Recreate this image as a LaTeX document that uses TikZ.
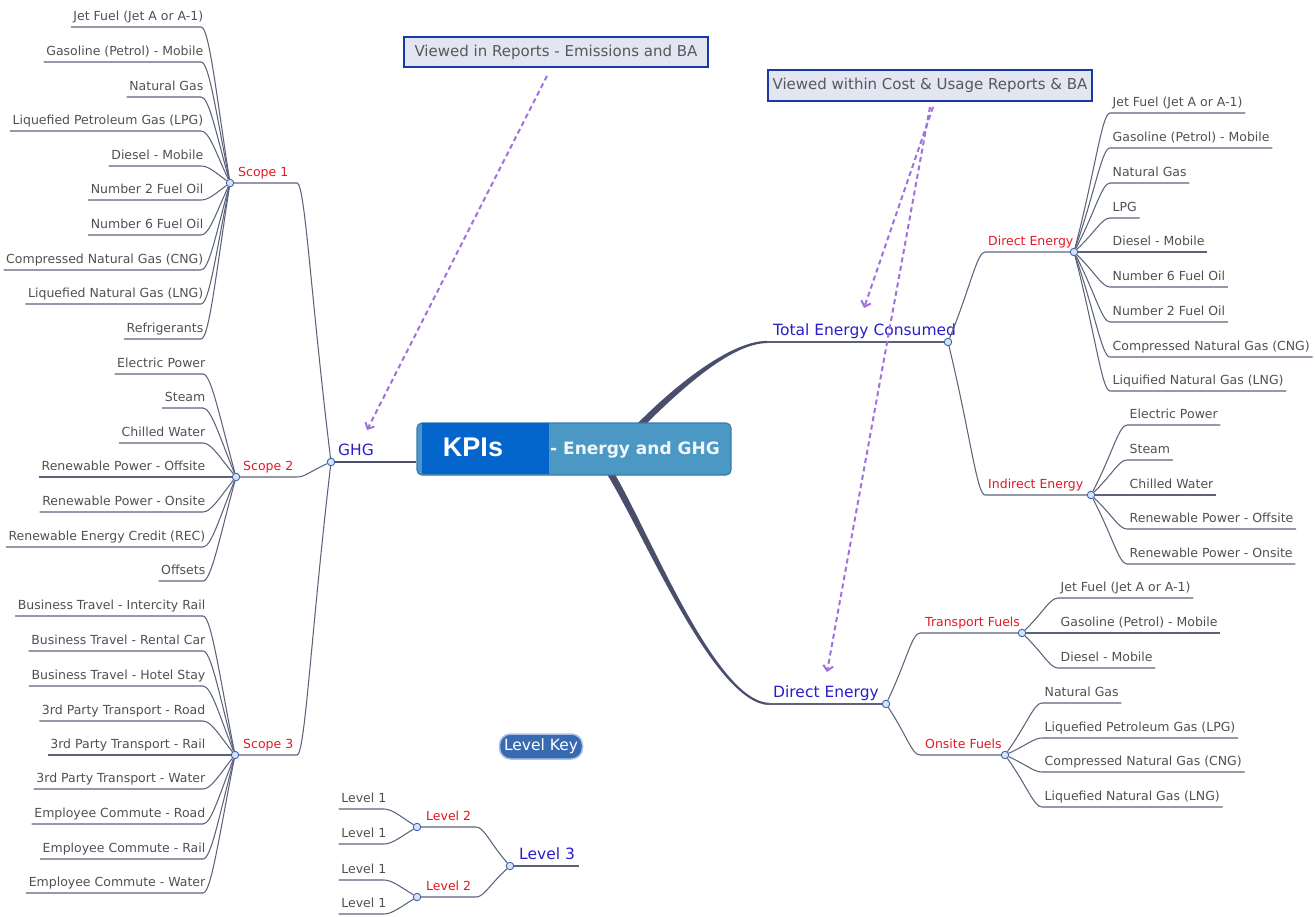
\documentclass[tikz,border=0pt]{standalone}
\usepackage{fontspec}
\setmainfont{DejaVu Sans}
\newfontfamily\kpifont{Liberation Sans}
\usetikzlibrary{arrows.meta,calc}
\definecolor{linkgray}{RGB}{92,98,122}
\definecolor{trunkgray}{RGB}{72,78,108}
\definecolor{leafgray}{RGB}{80,80,80}
\definecolor{lblred}{RGB}{226,24,36}
\definecolor{lblblue}{RGB}{42,30,200}
\definecolor{knotedge}{RGB}{58,98,178}
\definecolor{knotfill}{RGB}{214,228,248}
\definecolor{callblue}{RGB}{28,56,168}
\definecolor{callfill}{RGB}{226,230,243}
\definecolor{callgray}{RGB}{88,88,88}
\definecolor{hintpurple}{RGB}{160,112,226}
\definecolor{kpilight}{RGB}{76,152,196}
\definecolor{kpidark}{RGB}{4,102,204}
\definecolor{kpiedge}{RGB}{58,122,170}
\definecolor{kpitext}{RGB}{240,246,250}
\definecolor{keyblue}{RGB}{56,106,178}
\definecolor{keyedge}{RGB}{170,196,232}
% leaf left of its knot: name, x, y, knot, text
\newcommand{\leafl}[5]{%
  \node[leafL] (#1) at (#2,#3) {#5};
  \draw[lnk] (#1.south west) -- ($(#1.south east)+(-5,0)$)
    .. controls ($(#1.south east)+(3,0)$) and ($(#4)!0.6!(#1.south east)$) .. (#4);}
% leaf right of its knot: name, x, y, knot, text
\newcommand{\leafr}[5]{%
  \node[leafR] (#1) at (#2,#3) {#5};
  \draw[lnk] (#4) .. controls ($(#4)!0.6!(#1.south west)$) and ($(#1.south west)+(-8,0)$) .. (#1.south west)
    -- (#1.south east);}

\begin{document}
\begin{tikzpicture}[x=1pt,y=-1pt,
  >={Straight Barb[length=5pt,width=10pt]},
  lnk/.style={draw=linkgray, line width=1.05pt},
  knot/.style={circle, draw=knotedge, fill=knotfill, line width=0.9pt, inner sep=0pt, minimum size=7.5pt},
  leafL/.style={anchor=south east, font=\fontsize{12.5}{15}\selectfont, text=leafgray, inner xsep=2.5pt, inner ysep=3.5pt, text height=9pt, text depth=2.5pt},
  leafR/.style={leafL, anchor=south west},
  redlbl/.style={anchor=south west, font=\fontsize{12.5}{15}\selectfont, text=lblred, inner xsep=3pt, inner ysep=3.5pt, text height=9pt, text depth=2.5pt},
  bluelbl/.style={anchor=south west, font=\fontsize{15.5}{18}\selectfont, text=lblblue, inner xsep=3pt, inner ysep=3.5pt, text height=11pt, text depth=3pt},
  callout/.style={draw=callblue, line width=1.8pt, fill=callfill, text=callgray, font=\fontsize{15}{18}\selectfont, inner sep=0pt},
  hint/.style={->, draw=hintpurple, line width=2pt, dash pattern=on 5pt off 3.5pt},
  kpibox/.style={rounded corners=5pt, draw=kpiedge, fill=kpilight, line width=1.2pt, minimum width=314pt, minimum height=52pt, inner sep=0pt},
  kpimain/.style={font=\kpifont\bfseries\fontsize{27}{30}\selectfont, text=white, inner sep=1pt},
  kpisub/.style={font=\bfseries\fontsize{17}{20}\selectfont, text=kpitext, anchor=west, inner sep=1pt},
  keybtn/.style={rounded corners=11pt, fill=keyblue, draw=keyedge, line width=1.5pt, text=white, font=\fontsize{15.5}{18}\selectfont, minimum width=83pt, minimum height=25pt, inner sep=0pt},
]
\useasboundingbox (0,0) rectangle (1315,916);
% ---------------- trunk ends ----------------
\coordinate (tecs) at (767,342);
\coordinate (des) at (767,704);
\fill[trunkgray] (634,427) .. controls (671,389) and (729,340.9) .. ($(tecs)+(0,-1.1)$)
  -- ($(tecs)+(0,1.1)$) .. controls (731,343.1) and (679,391) .. (643,427) -- cycle;
\fill[trunkgray] (605,471) .. controls (643,531) and (714,704.9) .. ($(des)+(3,1.1)$)
  -- ($(des)+(3,-1.1)$) .. controls (716,703.1) and (648,529) .. (613,471) -- cycle;
% ---------------- central topic ----------------
\node[kpibox] (kpi) at (574,449) {};
\fill[kpidark] ($(kpi.north west)+(6,1)$) rectangle ($(kpi.south west)+(133,-2)$);
\node[kpimain] (kpis) at (473,447) {KPIs};
\node[kpisub] (kpit) at (549,450) {- Energy and GHG};
% ---------------- knots ----------------
\node[knot] (ghg) at (331,462) {};
\node[knot] (s1) at (230,183) {};
\node[knot] (s2) at (236,477) {};
\node[knot] (s3) at (235,755) {};
\node[knot] (tec) at (948,342) {};
\node[knot] (de1) at (1074,252) {};
\node[knot] (ie) at (1091,495) {};
\node[knot] (de2) at (886,704) {};
\node[knot] (tf) at (1022,633) {};
\node[knot] (of) at (1005,755) {};
\coordinate (s1e) at (297,183);
\coordinate (s2e) at (297,477);
\coordinate (s3e) at (297,755);
\coordinate (de1s) at (985,252);
\coordinate (ies) at (985,495);
\coordinate (tfs) at (920,633);
\coordinate (ofs) at (920,755);
% ---------------- labels ----------------
\node[bluelbl] (ghgt) at (335,462) {GHG};
\node[redlbl] (s1t) at (235,183) {Scope 1};
\node[redlbl] (s2t) at (240,477) {Scope 2};
\node[redlbl] (s3t) at (240,755) {Scope 3};
\node[bluelbl] (tect) at (770,342) {Total Energy Consumed};
\node[redlbl] (de1t) at (985,252) {Direct Energy};
\node[redlbl] (iet) at (985,495) {Indirect Energy};
\node[bluelbl] (de2t) at (770,704) {Direct Energy};
\node[redlbl] (tft) at (922,633) {Transport Fuels};
\node[redlbl] (oft) at (922,755) {Onsite Fuels};
% ---------------- branches ----------------
\draw[trunkgray, line width=2.6pt] (ghg) -- (ghg -| kpi.west);
\draw[lnk] (s1) -- (s1e) .. controls ($(s1e)+(8,0)$) and ($(ghg)!0.6!(s1e)$) .. (ghg);
\draw[lnk] (s2) -- (s2e) .. controls ($(s2e)+(8,0)$) and ($(ghg)!0.6!(s2e)$) .. (ghg);
\draw[lnk] (s3) -- (s3e) .. controls ($(s3e)+(8,0)$) and ($(ghg)!0.6!(s3e)$) .. (ghg);
\draw[lnk] (tecs) -- (tec);
\draw[lnk] (des) -- (de2);
\draw[lnk] (tec) .. controls ($(tec)!0.6!(de1s)$) and ($(de1s)+(-8,0)$) .. (de1s) -- (de1);
\draw[lnk] (tec) .. controls ($(tec)!0.6!(ies)$) and ($(ies)+(-8,0)$) .. (ies) -- (ie);
\draw[lnk] (de2) .. controls ($(de2)!0.6!(tfs)$) and ($(tfs)+(-8,0)$) .. (tfs) -- (tf);
\draw[lnk] (de2) .. controls ($(de2)!0.6!(ofs)$) and ($(ofs)+(-8,0)$) .. (ofs) -- (of);
% ---------------- scope 1 ----------------
\leafl{sa1}{206}{27}{s1}{Jet Fuel (Jet A or A-1)}
\leafl{sa2}{206}{62}{s1}{Gasoline (Petrol) - Mobile}
\leafl{sa3}{206}{97}{s1}{Natural Gas}
\leafl{sa4}{206}{131}{s1}{Liquefied Petroleum Gas (LPG)}
\leafl{sa5}{206}{166}{s1}{Diesel - Mobile}
\leafl{sa6}{206}{200}{s1}{Number 2 Fuel Oil}
\leafl{sa7}{206}{235}{s1}{Number 6 Fuel Oil}
\leafl{sa8}{206}{270}{s1}{Compressed Natural Gas (CNG)}
\leafl{sa9}{206}{304}{s1}{Liquefied Natural Gas (LNG)}
\leafl{sa10}{206}{339}{s1}{Refrigerants}
% ---------------- scope 2 ----------------
\leafl{sb1}{208}{374}{s2}{Electric Power}
\leafl{sb2}{208}{408}{s2}{Steam}
\leafl{sb3}{208}{443}{s2}{Chilled Water}
\leafl{sb4}{208}{477}{s2}{Renewable Power - Offsite}
\leafl{sb5}{208}{512}{s2}{Renewable Power - Onsite}
\leafl{sb6}{208}{547}{s2}{Renewable Energy Credit (REC)}
\leafl{sb7}{208}{581}{s2}{Offsets}
% ---------------- scope 3 ----------------
\leafl{sc1}{208}{616}{s3}{Business Travel - Intercity Rail}
\leafl{sc2}{208}{651}{s3}{Business Travel - Rental Car}
\leafl{sc3}{208}{686}{s3}{Business Travel - Hotel Stay}
\leafl{sc4}{208}{721}{s3}{3rd Party Transport - Road}
\leafl{sc5}{208}{755}{s3}{3rd Party Transport - Rail}
\leafl{sc6}{208}{789}{s3}{3rd Party Transport - Water}
\leafl{sc7}{208}{824}{s3}{Employee Commute - Road}
\leafl{sc8}{208}{859}{s3}{Employee Commute - Rail}
\leafl{sc9}{208}{893}{s3}{Employee Commute - Water}
% ---------------- direct energy (consumed) ----------------
\leafr{da1}{1110}{113}{de1}{Jet Fuel (Jet A or A-1)}
\leafr{da2}{1110}{148}{de1}{Gasoline (Petrol) - Mobile}
\leafr{da3}{1110}{183}{de1}{Natural Gas}
\leafr{da4}{1110}{218}{de1}{LPG}
\leafr{da5}{1110}{252}{de1}{Diesel - Mobile}
\leafr{da6}{1110}{287}{de1}{Number 6 Fuel Oil}
\leafr{da7}{1110}{322}{de1}{Number 2 Fuel Oil}
\leafr{da8}{1110}{357}{de1}{Compressed Natural Gas (CNG)}
\leafr{da9}{1110}{391}{de1}{Liquified Natural Gas (LNG)}
% ---------------- indirect energy ----------------
\leafr{ia1}{1127}{425}{ie}{Electric Power}
\leafr{ia2}{1127}{460}{ie}{Steam}
\leafr{ia3}{1127}{495}{ie}{Chilled Water}
\leafr{ia4}{1127}{529}{ie}{Renewable Power - Offsite}
\leafr{ia5}{1127}{564}{ie}{Renewable Power - Onsite}
% ---------------- transport / onsite fuels ----------------
\leafr{ta1}{1058}{598}{tf}{Jet Fuel (Jet A or A-1)}
\leafr{ta2}{1058}{633}{tf}{Gasoline (Petrol) - Mobile}
\leafr{ta3}{1058}{668}{tf}{Diesel - Mobile}
\leafr{oa1}{1042}{703}{of}{Natural Gas}
\leafr{oa2}{1042}{738}{of}{Liquefied Petroleum Gas (LPG)}
\leafr{oa3}{1042}{772}{of}{Compressed Natural Gas (CNG)}
\leafr{oa4}{1042}{807}{of}{Liquefied Natural Gas (LNG)}
% ---------------- callouts ----------------
\node[callout, minimum width=304pt, minimum height=30pt] (cb1) at (556,52) {Viewed in Reports - Emissions and BA};
\node[callout, minimum width=324pt, minimum height=31pt] (cb2) at (930,85.5) {Viewed within Cost \& Usage Reports \& BA};
\coordinate (hA) at (367,430);
\coordinate (hB) at (864,308);
\coordinate (hC) at (827,672);
\draw[hint] ($(cb1.south)+(-9,8)$) -- (hA);
\draw[hint] ($(cb2.south)+(3,5)$) -- (hB);
\draw[hint] ($(cb2.south)+(0,5)$) -- (hC);
% ---------------- level key ----------------
\node[keybtn] (key) at (541,746.5) {Level Key};
\node[knot] (k2a) at (417,827) {};
\node[knot] (k2b) at (417,897) {};
\node[knot] (k3) at (510,866) {};
\coordinate (k2as) at (476,827);
\coordinate (k2bs) at (476,897);
\coordinate (k3e) at (579,866);
\node[redlbl] (k2at) at (423,827) {Level 2};
\node[redlbl] (k2bt) at (423,897) {Level 2};
\node[bluelbl] (k3t) at (516,866) {Level 3};
\draw[lnk] (k2a) -- (k2as) .. controls ($(k2as)+(8,0)$) and ($(k3)!0.6!(k2as)$) .. (k3);
\draw[lnk] (k2b) -- (k2bs) .. controls ($(k2bs)+(8,0)$) and ($(k3)!0.6!(k2bs)$) .. (k3);
\draw[lnk] (k3) -- (k3e);
\leafl{ka1}{389}{809}{k2a}{Level 1}
\leafl{ka2}{389}{844}{k2a}{Level 1}
\leafl{ka3}{389}{880}{k2b}{Level 1}
\leafl{ka4}{389}{914}{k2b}{Level 1}
\end{tikzpicture}
\end{document}
